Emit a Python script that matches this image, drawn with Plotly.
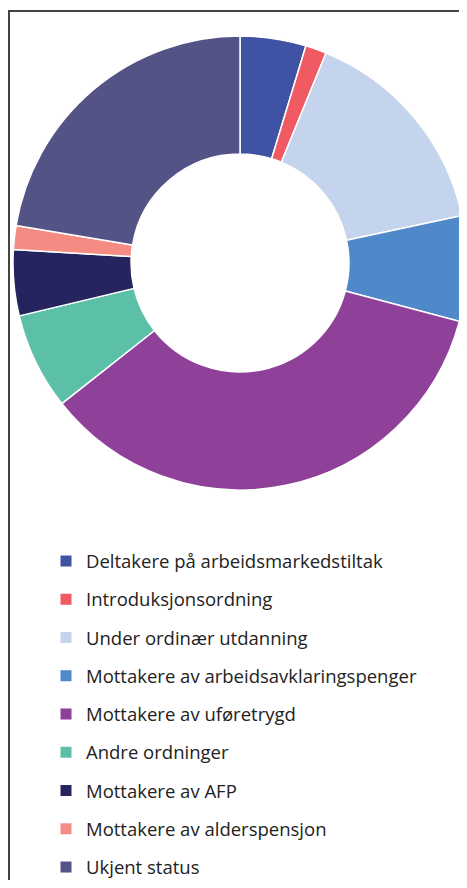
import plotly.graph_objects as go

categories = [
    "Deltakere på arbeidsmarkedstiltak",
    "Introduksjonsordning",
    "Under ordinær utdanning",
    "Mottakere av arbeidsavklaringspenger",
    "Mottakere av uføretrygd",
    "Andre ordninger",
    "Mottakere av AFP",
    "Mottakere av alderspensjon",
    "Ukjent status",
]
values = [4.7, 1.5, 15.5, 7.5, 35.3, 6.9, 4.7, 1.7, 22.4]
colors = ["#3f52a3", "#f05a62", "#c5d4ed", "#5089c9", "#8f4199",
          "#5cc0a9", "#25245f", "#f58c83", "#545386"]

# page body has an 8px margin, so the figure is sized to fit inside it
W, H = 459, 872
cx, cy, r = 232, 255, 227

fig = go.Figure()
fig.add_trace(go.Pie(
    labels=categories, values=values, sort=False, direction="clockwise",
    rotation=0, hole=0.48, textinfo="none", hoverinfo="label+percent",
    marker=dict(colors=colors, line=dict(color="white", width=1.5)),
    showlegend=False,
    domain=dict(x=[(cx - r) / W, min(1, (cx + r) / W)],
                y=[1 - (cy + r) / H, 1 - (cy - r) / H]),
))

for i, (c, col) in enumerate(zip(categories, colors)):
    fig.add_trace(go.Scatter(
        x=[None], y=[None], mode="markers", name=c, legendgroup=f"g{i}",
        marker=dict(symbol="square", size=11, color=col),
    ))

fig.update_layout(
    width=W, height=H,
    margin=dict(l=0, r=0, t=0, b=0, autoexpand=False),
    paper_bgcolor="white", plot_bgcolor="white",
    font=dict(family="Open Sans", color="#222222"),
    xaxis=dict(visible=False), yaxis=dict(visible=False),
    legend=dict(x=38 / W, xanchor="left", y=1 - 534.5 / H, yanchor="top",
                font=dict(size=18.5, color="#222222"), tracegroupgap=11.2,
                bgcolor="rgba(0,0,0,0)", itemclick=False),
    shapes=[
        dict(type="line", xref="paper", yref="paper", x0=1 / W, x1=1 / W,
             y0=0, y1=1 - 3 / H, line=dict(color="#444444", width=2)),
        dict(type="line", xref="paper", yref="paper", x0=0, x1=1,
             y0=1 - 3 / H, y1=1 - 3 / H, line=dict(color="#444444", width=2)),
    ],
)

fig.write_html("out.html")
